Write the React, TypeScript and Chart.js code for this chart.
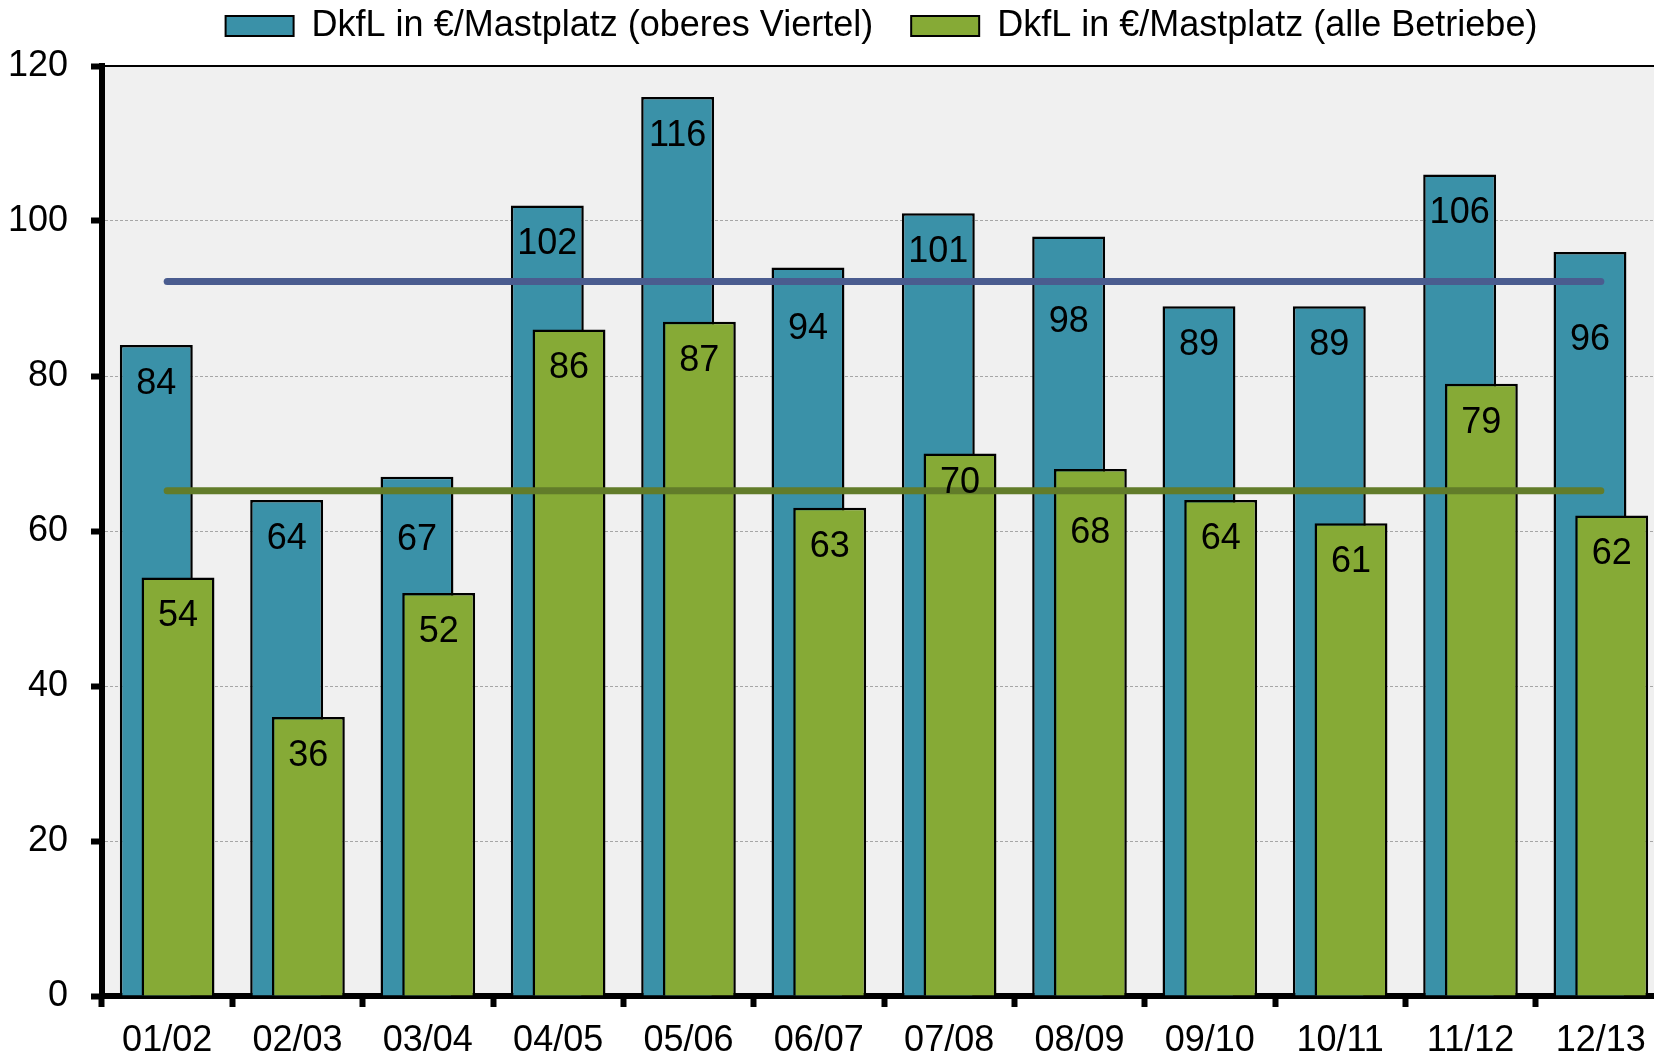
import React, { useEffect, useRef } from 'react';
import { Chart, registerables } from 'chart.js';

Chart.register(...registerables);

const categories = ['01/02', '02/03', '03/04', '04/05', '05/06', '06/07', '07/08', '08/09', '09/10', '10/11', '11/12', '12/13'];
const oberesViertel = [84, 64, 67, 102, 116, 94, 101, 98, 89, 89, 106, 96];
const alleBetriebe = [54, 36, 52, 86, 87, 63, 70, 68, 64, 61, 79, 62];
const mittelOberes = [92.2, 92.2, 92.2, 92.2, 92.2, 92.2, 92.2, 92.2, 92.2, 92.2, 92.2, 92.2];
const mittelAlle = [65.2, 65.2, 65.2, 65.2, 65.2, 65.2, 65.2, 65.2, 65.2, 65.2, 65.2, 65.2];
const seriesNames = ['DkfL in €/Mastplatz (oberes Viertel)', 'DkfL in €/Mastplatz (alle Betriebe)'];
const yMin = 0;
const yMax = 120;
const yStep = 20;

// label placement (px below bar top), as placed in the original chart
const labelDropOberes = [39, 39, 63, 39, 39, 62, 39, 86, 39, 39, 39, 88];
const labelDropAlle = [39, 39, 39, 39, 39, 39, 30, 64, 39, 39, 39, 39];

const FONT = '"Liberation Sans", Arial, Helvetica, sans-serif';
const CANVAS_W = 1763;
const CANVAS_H = 1055;
const PLOT_RIGHT = 1666;

const plotBackground = {
  id: 'plotBackground',
  beforeDraw(chart: any) {
    const { ctx, chartArea } = chart;
    ctx.save();
    ctx.fillStyle = '#F0F0F0';
    ctx.fillRect(chartArea.left, chartArea.top, chartArea.right - chartArea.left, chartArea.bottom - chartArea.top);
    ctx.restore();
  },
};

const valueLabels = {
  id: 'valueLabels',
  afterDatasetsDraw(chart: any) {
    const ctx = chart.ctx;
    ctx.save();
    ctx.font = `36px ${FONT}`;
    ctx.fillStyle = '#000';
    ctx.textAlign = 'center';
    ctx.textBaseline = 'middle';
    chart.data.datasets.forEach((ds: any, i: number) => {
      if (!ds.labelDrop) return;
      const meta = chart.getDatasetMeta(i);
      meta.data.forEach((el: any, j: number) => {
        ctx.fillText(String(ds.data[j]), el.x, el.y + ds.labelDrop[j]);
      });
    });
    ctx.restore();
  },
};

export default function App() {
  const canvasRef = useRef<HTMLCanvasElement | null>(null);

  useEffect(() => {
    if (!canvasRef.current) return;
    Chart.defaults.font.family = FONT;
    Chart.defaults.color = '#000';

    const baseGenerate = (Chart.defaults as any).plugins.legend.labels.generateLabels;

    const chart = new Chart(canvasRef.current, {
      type: 'bar',
      data: {
        labels: categories,
        datasets: [
          {
            // empty placeholder: fixes slot order (blue left) while green is drawn on top
            label: '_slot',
            data: [],
            stack: 'left',
            order: 0,
          } as any,
          {
            type: 'line',
            label: 'Mittel oberes Viertel',
            data: mittelOberes,
            borderColor: '#4A5C8F',
            borderWidth: 7,
            borderCapStyle: 'round',
            pointRadius: 0,
            fill: false,
            order: -2,
          } as any,
          {
            type: 'line',
            label: 'Mittel alle Betriebe',
            data: mittelAlle,
            borderColor: '#627C2A',
            borderWidth: 7,
            borderCapStyle: 'round',
            pointRadius: 0,
            fill: false,
            order: -1,
          } as any,
          {
            label: seriesNames[0],
            data: oberesViertel,
            backgroundColor: '#3A91A8',
            borderColor: '#000',
            borderWidth: 2.5,
            stack: 'left',
            order: 2,
            labelDrop: labelDropOberes,
          } as any,
          {
            label: seriesNames[1],
            data: alleBetriebe,
            backgroundColor: '#86AA36',
            borderColor: '#000',
            borderWidth: 2.5,
            stack: 'right',
            order: 1,
            labelDrop: labelDropAlle,
          } as any,
        ],
      },
      options: {
        responsive: false,
        animation: false,
        layout: { padding: 0 },
        datasets: {
          bar: {
            categoryPercentage: 0.333,
            barPercentage: 3.36,
          },
        } as any,
        plugins: {
          tooltip: { enabled: false },
          legend: {
            position: 'top',
            labels: {
              font: { size: 36, family: FONT },
              color: '#000',
              boxWidth: 68,
              boxHeight: 20,
              padding: 8,
              generateLabels: (c: any) =>
                baseGenerate(c).map((it: any) =>
                  it.text === seriesNames[0] ? { ...it, text: it.text + '   ', lineWidth: 2 } : { ...it, lineWidth: 2 }
                ),
              filter: (item: any) => item.text.trim() === seriesNames[0] || item.text.trim() === seriesNames[1],
              sort: (a: any, b: any) => a.datasetIndex - b.datasetIndex,
            },
          },
        },
        scales: {
          x: {
            type: 'category',
            position: 'bottom',
            offset: true,
            grid: {
              display: true,
              offset: true,
              drawOnChartArea: false,
              tickLength: 11,
              tickWidth: 6,
              tickColor: '#000',
              color: '#000',
            },
            border: { display: true, color: '#000', width: 6 },
            ticks: {
              font: { size: 36, family: FONT },
              color: '#000',
              padding: 12,
              maxRotation: 0,
              autoSkip: false,
            },
            afterFit: (scale: any) => {
              scale.height = 59;
            },
          },
          x2: {
            type: 'category',
            position: 'top',
            offset: true,
            grid: { display: true, drawOnChartArea: false, drawTicks: false },
            border: { display: true, color: '#000', width: 2 },
            ticks: { display: false },
            afterFit: (scale: any) => {
              const lh = scale.chart && scale.chart.legend ? scale.chart.legend.height : 54;
              scale.height = 66 - lh;
            },
          },
          y: {
            type: 'linear',
            position: 'left',
            stacked: false,
            min: yMin,
            max: yMax,
            ticks: {
              stepSize: yStep,
              font: { size: 36, family: FONT },
              color: '#000',
              padding: 23,
            },
            grid: {
              display: true,
              color: (c: any) => (c.tick && c.tick.value === yMax ? 'rgba(0,0,0,0)' : '#A6A6A6'),
              lineWidth: 1,
              tickLength: 11,
              tickWidth: 6,
              tickColor: '#000',
              tickBorderDash: [],
            },
            border: { display: true, color: '#000', width: 6, dash: [3, 2] },
            afterFit: (scale: any) => {
              scale.width = 102;
            },
          },
          y2: {
            type: 'linear',
            position: 'right',
            display: true,
            grid: { display: false },
            border: { display: false },
            ticks: { display: false },
            afterFit: (scale: any) => {
              scale.width = CANVAS_W - PLOT_RIGHT;
            },
          },
        },
      } as any,
      plugins: [plotBackground, valueLabels],
    });

    return () => {
      chart.destroy();
    };
  }, []);

  return (
    <div
      style={{
        position: 'fixed',
        left: 0,
        top: 0,
        width: '1654px',
        height: '1055px',
        overflow: 'hidden',
        background: '#fff',
      }}
    >
      <canvas
        ref={canvasRef}
        width={CANVAS_W}
        height={CANVAS_H}
        style={{ display: 'block', width: `${CANVAS_W}px`, height: `${CANVAS_H}px` }}
      />
    </div>
  );
}
